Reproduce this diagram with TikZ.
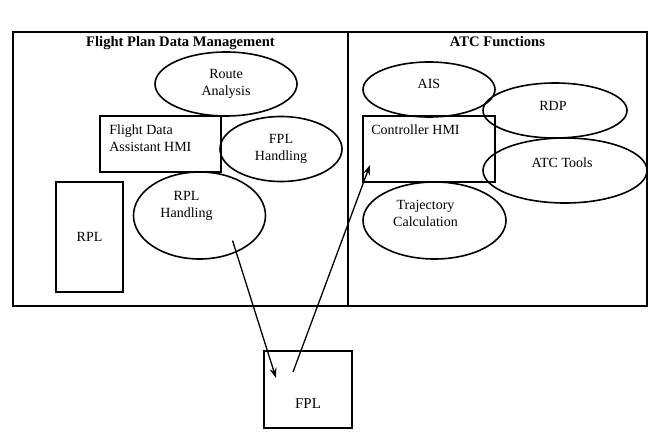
\documentclass[tikz,border=0pt]{standalone}
\usepackage{fontspec}
\setmainfont{Liberation Serif}
\usetikzlibrary{arrows.meta, shapes.geometric}

\begin{document}
\begin{tikzpicture}[
  x=1pt, y=-1pt,
  font=\fontsize{14}{17}\selectfont,
  area/.style={rectangle, draw, line width=1.8pt, inner sep=0pt},
  ttl/.style={anchor=base, inner sep=0pt, yshift=-15pt,
              font=\fontsize{14.6}{17}\selectfont\bfseries},
  ell/.style={ellipse, draw, line width=1.6pt, inner sep=0pt, align=center},
  box/.style={rectangle, draw, line width=1.7pt, inner sep=0pt, align=center},
  arr/.style={-{Stealth[length=10pt, width=7pt]}, line width=1.3pt}
]
\useasboundingbox (0,0) rectangle (652,441);

% the two areas
\node[area, minimum width=335pt, minimum height=274pt,
      label={[ttl]north:Flight Plan Data Management}] (fpdm) at (180.5,169) {};
\node[area, minimum width=299pt, minimum height=274pt,
      label={[ttl]north:ATC Functions}] (atcf) at (497.5,169) {};

% flight plan data management
\node[ell, minimum width=142pt, minimum height=64pt] (route) at (226,84) {Route\\Analysis};
\node[box, minimum width=121pt, minimum height=56pt,
      label={[anchor=north west, align=left, inner sep=0pt, xshift=10pt, yshift=-9pt]north west:Flight Data\\Assistant HMI}] (fdahmi) at (160.5,144) {};
\node[ell, minimum width=122pt, minimum height=65pt] (fplh) at (281,149) {FPL\\Handling};
\node[ell, minimum width=132pt, minimum height=87pt,
      label={[align=center, shift={(-13,-10)}]center:RPL\\Handling}] (rplh) at (199.5,215.5) {};
\node[box, minimum width=67pt, minimum height=110pt] (rpl) at (89.5,237) {RPL};

% atc functions
\node[ell, minimum width=132pt, minimum height=55pt,
      label={[shift={(0,-6)}]center:AIS}] (ais) at (429,89.5) {};
\node[box, minimum width=132pt, minimum height=66pt,
      label={[anchor=north west, inner sep=0pt, xshift=9pt, yshift=-9pt]north west:Controller HMI}] (ctrl) at (429,149) {};
\node[ell, minimum width=144pt, minimum height=55pt,
      label={[shift={(-2,-5)}]center:RDP}] (rdp) at (555,110.5) {};
\node[ell, minimum width=164pt, minimum height=65pt,
      label={[shift={(-3,-8)}]center:ATC Tools}] (tools) at (565,170.5) {};
\node[ell, minimum width=143pt, minimum height=77pt,
      label={[align=center, shift={(-9,-7)}]center:Trajectory\\Calculation}] (traj) at (434.5,220.5) {};

% flight plan store
\node[box, line width=1.4pt, minimum width=88pt, minimum height=77pt,
      label={[anchor=base, inner sep=0pt, yshift=20pt, font=\fontsize{15}{17}\selectfont]south:FPL}] (fpl) at (308,389.5) {};

\draw[arr] ([shift={(33,25)}]rplh.center) -- ([shift={(-32,-11.5)}]fpl.center);
\draw[arr] ([shift={(-15,-17.5)}]fpl.center) -- ([shift={(-59,16)}]ctrl.center);

\end{tikzpicture}
\end{document}
